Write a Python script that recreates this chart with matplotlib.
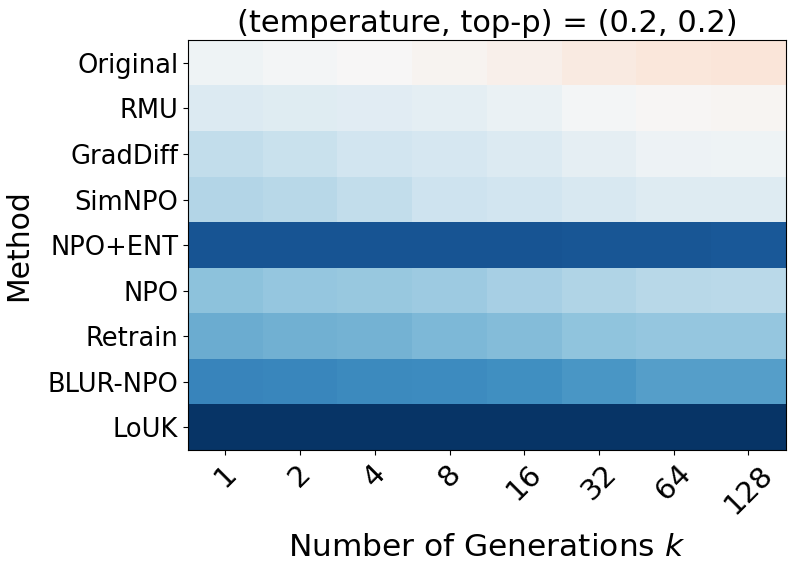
import matplotlib
matplotlib.use("Agg")
import matplotlib.pyplot as plt
import numpy as np

methods = ["Original", "RMU", "GradDiff", "SimNPO", "NPO+ENT", "NPO", "Retrain", "BLUR-NPO", "LoUK"]
k_values = ["1", "2", "4", "8", "16", "32", "64", "128"]

# score per method (rows) and k (columns)
original = [0.48, 0.49, 0.50, 0.515, 0.525, 0.545, 0.555, 0.56]
rmu = [0.43, 0.44, 0.445, 0.452, 0.465, 0.49, 0.505, 0.51]
graddiff = [0.375, 0.39, 0.405, 0.415, 0.43, 0.455, 0.475, 0.477]
simnpo = [0.355, 0.362, 0.375, 0.395, 0.405, 0.42, 0.435, 0.435]
npo_ent = [0.07, 0.07, 0.07, 0.07, 0.07, 0.072, 0.074, 0.076]
npo = [0.295, 0.305, 0.31, 0.32, 0.335, 0.35, 0.36, 0.365]
retrain = [0.25, 0.26, 0.265, 0.275, 0.285, 0.30, 0.307, 0.308]
blur_npo = [0.17, 0.175, 0.18, 0.185, 0.195, 0.21, 0.225, 0.225]
louk = [0.01, 0.01, 0.01, 0.01, 0.01, 0.01, 0.01, 0.01]

data = np.array([original, rmu, graddiff, simnpo, npo_ent, npo, retrain, blur_npo, louk])

fig = plt.figure(figsize=(7.93, 5.66), dpi=100)
ax = fig.add_axes([0.237, 0.205, 0.754, 0.724])
ax.imshow(data, cmap="RdBu_r", vmin=0, vmax=1, aspect="auto")

ax.set_xticks(range(len(k_values)))
ax.set_xticklabels(k_values, rotation=45, fontsize=21)
ax.set_yticks(range(len(methods)))
ax.set_yticklabels(methods, fontsize=18.5)
ax.set_xlabel("Number of Generations $k$", fontsize=22.5, labelpad=10)
ax.set_ylabel("Method", fontsize=21.5, labelpad=10)
ax.set_title("(temperature, top-p) = (0.2, 0.2)", fontsize=22)

fig.savefig("out.png", dpi=100)
